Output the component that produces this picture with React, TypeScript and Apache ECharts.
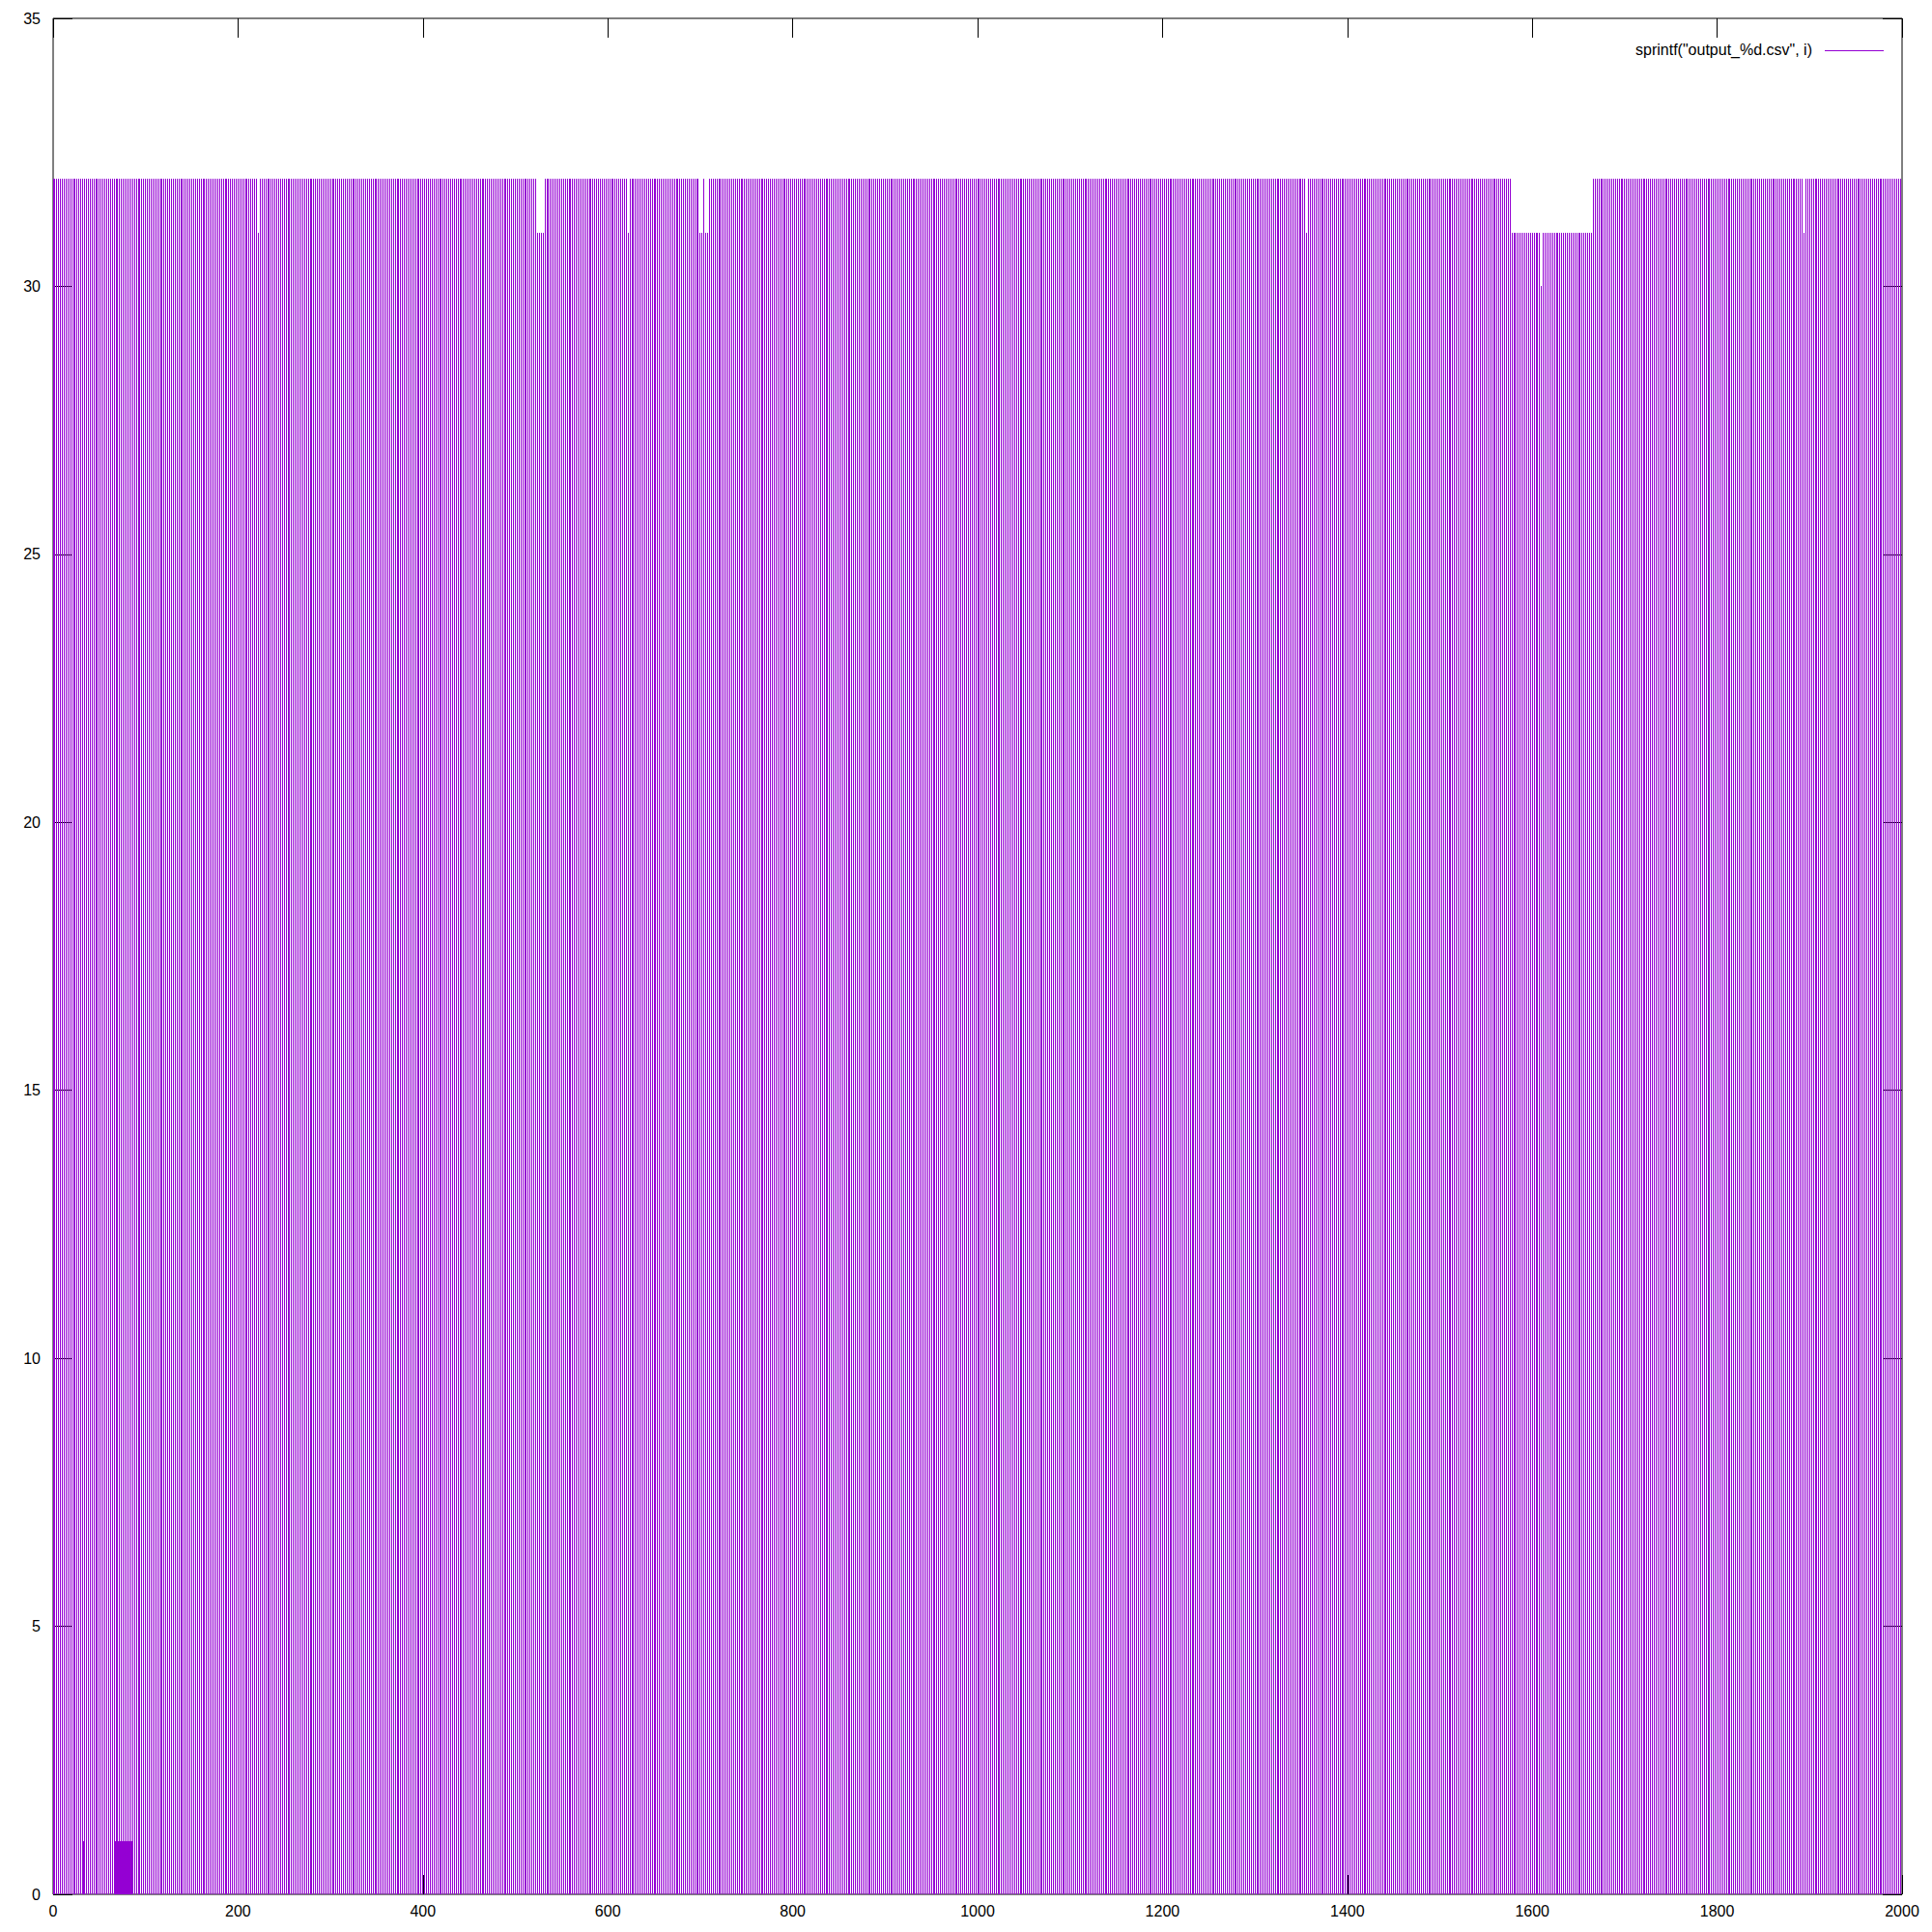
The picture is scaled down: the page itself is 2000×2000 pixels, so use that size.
import React, { useEffect, useRef } from "react";
import * as echarts from "echarts";

// ---- data ----
// sampled x positions (impulses every 2 units from 0 to 2000)
const X_FIRST = 0;
const X_LAST = 2000;
const X_STEP = 2;
// default impulse height, then overriding runs [from, to, value]
const BASE_VALUE = 32;
const valueRuns: [number, number, number][] = [
  [222, 222, 31],
  [524, 530, 31],
  [622, 622, 31],
  [700, 702, 31],
  [706, 708, 31],
  [1356, 1356, 31],
  [1578, 1664, 31],
  [1610, 1610, 30],
  [1894, 1894, 31],
];
// extra low impulses (value 1)
const lowXs = [33, 67, 69, 71, 73, 75, 77, 79, 81, 83, 85];
const lowValue = 1;

const xTicks = [0, 200, 400, 600, 800, 1000, 1200, 1400, 1600, 1800, 2000];
const yTicks = [0, 5, 10, 15, 20, 25, 30, 35];
const legendLabel = 'sprintf("output_%d.csv", i)';

function buildMain(): [number, number][] {
  const out: [number, number][] = [];
  for (let x = X_FIRST; x <= X_LAST; x += X_STEP) {
    let v = BASE_VALUE;
    for (const [a, b, val] of valueRuns) if (x >= a && x <= b) v = val;
    out.push([x, v]);
  }
  return out;
}

const COLOR = "#9400d3";
const FONT = "Liberation Sans";

export default function App() {
  const ref = useRef<HTMLDivElement>(null);
  useEffect(() => {
    document.body.style.margin = "0";
    const chart = echarts.init(ref.current!, undefined, { renderer: "svg" });
    const mainData = buildMain();
    const lowData = lowXs.map((x) => [x, lowValue]);
    const renderItem = (params: any, api: any) => {
      const x = api.value(0);
      const y = api.value(1);
      const top = api.coord([x, y]);
      const bottom = api.coord([x, 0]);
      const px = Math.floor(top[0]) + 0.5;
      return {
        type: "line",
        shape: { x1: px, y1: bottom[1], x2: px, y2: Math.round(top[1]) },
        style: { stroke: COLOR, lineWidth: 1 },
        silent: true,
      };
    };
    const axisFont = { fontFamily: FONT, fontSize: 16, color: "#000" };
    const tick = { show: true, inside: true, length: 20, lineStyle: { color: "#000", width: 1 } };
    const plain = (v: number) => String(v);
    chart.setOption({
      animation: false,
      backgroundColor: "#fff",
      grid: {
        left: 55,
        top: 19,
        right: 31,
        bottom: 39,
        show: true,
        borderColor: "#000",
        borderWidth: 1,
        backgroundColor: "transparent",
      },
      xAxis: [
        {
          type: "value",
          position: "bottom",
          min: xTicks[0],
          max: xTicks[xTicks.length - 1],
          interval: 200,
          axisLine: { show: false, onZero: false },
          axisTick: tick,
          axisLabel: { ...axisFont, margin: 9, formatter: plain },
          splitLine: { show: false },
        },
        {
          type: "value",
          position: "top",
          min: xTicks[0],
          max: xTicks[xTicks.length - 1],
          interval: 200,
          axisLine: { show: false, onZero: false },
          axisTick: tick,
          axisLabel: { show: false },
          splitLine: { show: false },
        },
      ],
      yAxis: [
        {
          type: "value",
          position: "left",
          min: yTicks[0],
          max: yTicks[yTicks.length - 1],
          interval: 5,
          axisLine: { show: false, onZero: false },
          axisTick: tick,
          axisLabel: { ...axisFont, margin: 13, formatter: plain },
          splitLine: { show: false },
        },
        {
          type: "value",
          position: "right",
          min: yTicks[0],
          max: yTicks[yTicks.length - 1],
          interval: 5,
          axisLine: { show: false, onZero: false },
          axisTick: tick,
          axisLabel: { show: false },
          splitLine: { show: false },
        },
      ],
      graphic: [
        {
          type: "text",
          right: 2000 - 1876,
          top: 43,
          style: { text: legendLabel, fontFamily: FONT, fontSize: 16, fill: "#000" },
        },
        {
          type: "line",
          shape: { x1: 1889, y1: 52.5, x2: 1950, y2: 52.5 },
          style: { stroke: COLOR, lineWidth: 1 },
        },
      ],
      series: [
        {
          type: "custom",
          name: legendLabel,
          xAxisIndex: 0,
          yAxisIndex: 0,
          data: mainData,
          encode: { x: 0, y: 1 },
          renderItem,
          clip: true,
        },
        {
          type: "custom",
          name: "low",
          xAxisIndex: 0,
          yAxisIndex: 0,
          data: lowData,
          encode: { x: 0, y: 1 },
          renderItem,
          clip: true,
        },
      ],
    });
    return () => chart.dispose();
  }, []);
  return (
    <div
      ref={ref}
      style={{ width: 2000, height: 2000, position: "absolute", left: 0, top: 0 }}
    />
  );
}
